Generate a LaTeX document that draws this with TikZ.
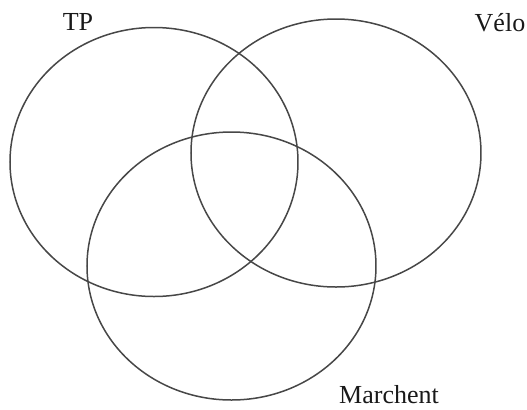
\documentclass[tikz,border=0pt]{standalone}
\usepackage{fontspec}
\setmainfont{Liberation Serif}
\usepackage{tikz}
\usetikzlibrary{shapes.geometric}

\begin{document}
\begin{tikzpicture}[
  x=0.5pt, y=-0.5pt,
  set/.style={draw=black!72, line width=0.75pt, ellipse, inner sep=0pt, outer sep=0pt},
  lbl/.style={font=\fontsize{13}{15}\selectfont, inner sep=0pt, text=black!90}
]
\useasboundingbox (0,0) rectangle (527,409);

% the three sets
\node[set, minimum width=144pt, minimum height=134.5pt] (tp) at (154,162) {};
\node[set, minimum width=145pt, minimum height=134pt] (velo) at (336,153) {};
\node[set, minimum width=144.5pt, minimum height=134pt] (marche) at (231.5,266) {};

% labels
\node[lbl] (tplbl) at (78,22) {TP};
\node[lbl] (velolbl) at (500,23) {Vélo};
\node[lbl] (marchelbl) at (389,395) {Marchent};
\end{tikzpicture}
\end{document}
